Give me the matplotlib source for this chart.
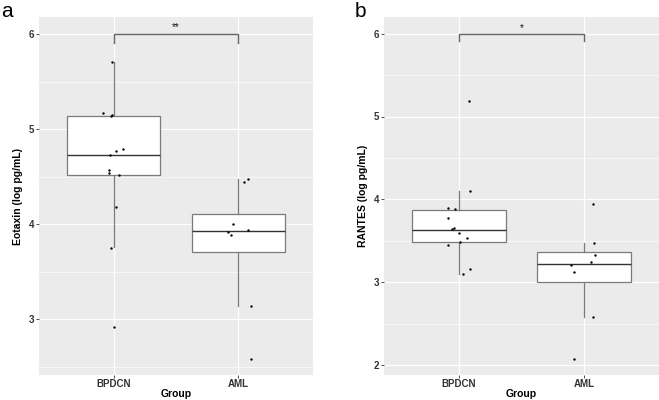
import numpy as np
import matplotlib
matplotlib.use("Agg")
import matplotlib.pyplot as plt
from matplotlib.ticker import MultipleLocator

plt.rcParams['font.family'] = ['Liberation Sans', 'DejaVu Sans']

groups = ["BPDCN", "AML"]

# panel a: Eotaxin (log pg/mL), values and jitter offsets
eot_bpdcn = [5.71, 5.17, 5.14, 5.15, 4.79, 4.77, 4.73, 4.57, 4.54, 4.52, 4.18, 3.75, 2.92]
eot_bpdcn_jit = [-0.01, -0.09, -0.02, -0.01, 0.075, 0.02, -0.03, -0.035, -0.04, 0.045, 0.015, -0.025, 0.005]
eot_aml = [4.48, 4.44, 4.00, 3.94, 3.92, 3.89, 3.14, 2.58]
eot_aml_jit = [0.075, 0.045, -0.045, 0.08, -0.085, -0.06, 0.10, 0.10]
# box stats: whislo, q1, median, q3, whishi
eot_box = [[3.76, 4.52, 4.73, 5.14, 5.71], [3.14, 3.71, 3.93, 4.11, 4.47]]

# panel b: RANTES (log pg/mL)
ran_bpdcn = [5.19, 4.10, 3.90, 3.88, 3.77, 3.66, 3.64, 3.60, 3.53, 3.49, 3.45, 3.16, 3.10]
ran_bpdcn_jit = [0.08, 0.09, -0.09, -0.03, -0.09, -0.04, -0.055, 0.0, 0.065, 0.01, -0.085, 0.085, 0.03]
ran_aml = [3.94, 3.47, 3.33, 3.24, 3.21, 3.13, 2.58, 2.07]
ran_aml_jit = [0.075, 0.08, 0.09, 0.055, -0.10, -0.08, 0.075, -0.08]
ran_box = [[3.10, 3.49, 3.63, 3.87, 4.10], [2.58, 3.00, 3.22, 3.37, 3.47]]

panels = [
    dict(label="a", ylabel="Eotaxin (log pg/mL)", pts=[(eot_bpdcn, eot_bpdcn_jit), (eot_aml, eot_aml_jit)],
         box=eot_box, sig="**", ylim=(2.41, 6.18), ticks=[3, 4, 5, 6]),
    dict(label="b", ylabel="RANTES (log pg/mL)", pts=[(ran_bpdcn, ran_bpdcn_jit), (ran_aml, ran_aml_jit)],
         box=ran_box, sig="*", ylim=(1.88, 6.20), ticks=[2, 3, 4, 5, 6]),
]

fig = plt.figure(figsize=(6.59, 4.0), dpi=100)
axes_pos = [[0.0592, 0.062, 0.4158, 0.8955], [0.5827, 0.062, 0.4173, 0.8955]]
label_x = [0.002, 0.538]

for p, pos, lx in zip(panels, axes_pos, label_x):
    ax = fig.add_axes(pos)
    ax.set_facecolor("#EBEBEB")
    for s in ax.spines.values():
        s.set_visible(False)

    stats = []
    for b in p["box"]:
        stats.append(dict(whislo=b[0], q1=b[1], med=b[2], q3=b[3], whishi=b[4], fliers=[]))
    ax.bxp(stats, positions=[1, 2], widths=0.75, showcaps=False, patch_artist=True,
           manage_ticks=False,
           boxprops=dict(facecolor="white", edgecolor="#7A7A7A", lw=0.9),
           medianprops=dict(color="#333333", lw=1.0),
           whiskerprops=dict(color="#7A7A7A", lw=0.9), zorder=2)

    for i, (vals, jit) in enumerate(p["pts"]):
        xs = (i + 1) + np.array(jit)
        ax.scatter(xs, vals, s=3, color="black", zorder=3, linewidths=0)

    # significance bracket
    ax.plot([1, 1, 2, 2], [5.91, 6.0, 6.0, 5.91], color="#666666", lw=1.0, zorder=3)
    ax.text(1.5, 6.07, p["sig"], ha="center", va="center", fontsize=7, color="#111111")

    ax.set_xlim(0.4, 2.6)
    ax.set_ylim(*p["ylim"])
    ax.set_yticks(p["ticks"])
    ax.yaxis.set_minor_locator(MultipleLocator(0.5))
    ax.set_xticks([1, 2])
    ax.set_xticklabels(groups)
    ax.grid(which="major", color="white", lw=0.9)
    ax.grid(which="minor", axis="y", color="white", lw=0.45)
    ax.set_axisbelow(True)
    ax.tick_params(which="major", length=2, width=0.6, color="#333333", labelsize=7,
                   labelcolor="#333333", pad=1.5)
    ax.tick_params(axis="x", pad=1)
    ax.tick_params(which="minor", length=0)
    for t in ax.get_xticklabels() + ax.get_yticklabels():
        t.set_fontweight("bold")

    ax.set_xlabel("Group", fontsize=7.5, fontweight="bold", labelpad=-0.5)
    ax.set_ylabel(p["ylabel"], fontsize=7.5, fontweight="bold", labelpad=4)
    fig.text(lx, 0.995, p["label"], fontsize=15, va="top", ha="left")

fig.savefig("out.png", dpi=100)
